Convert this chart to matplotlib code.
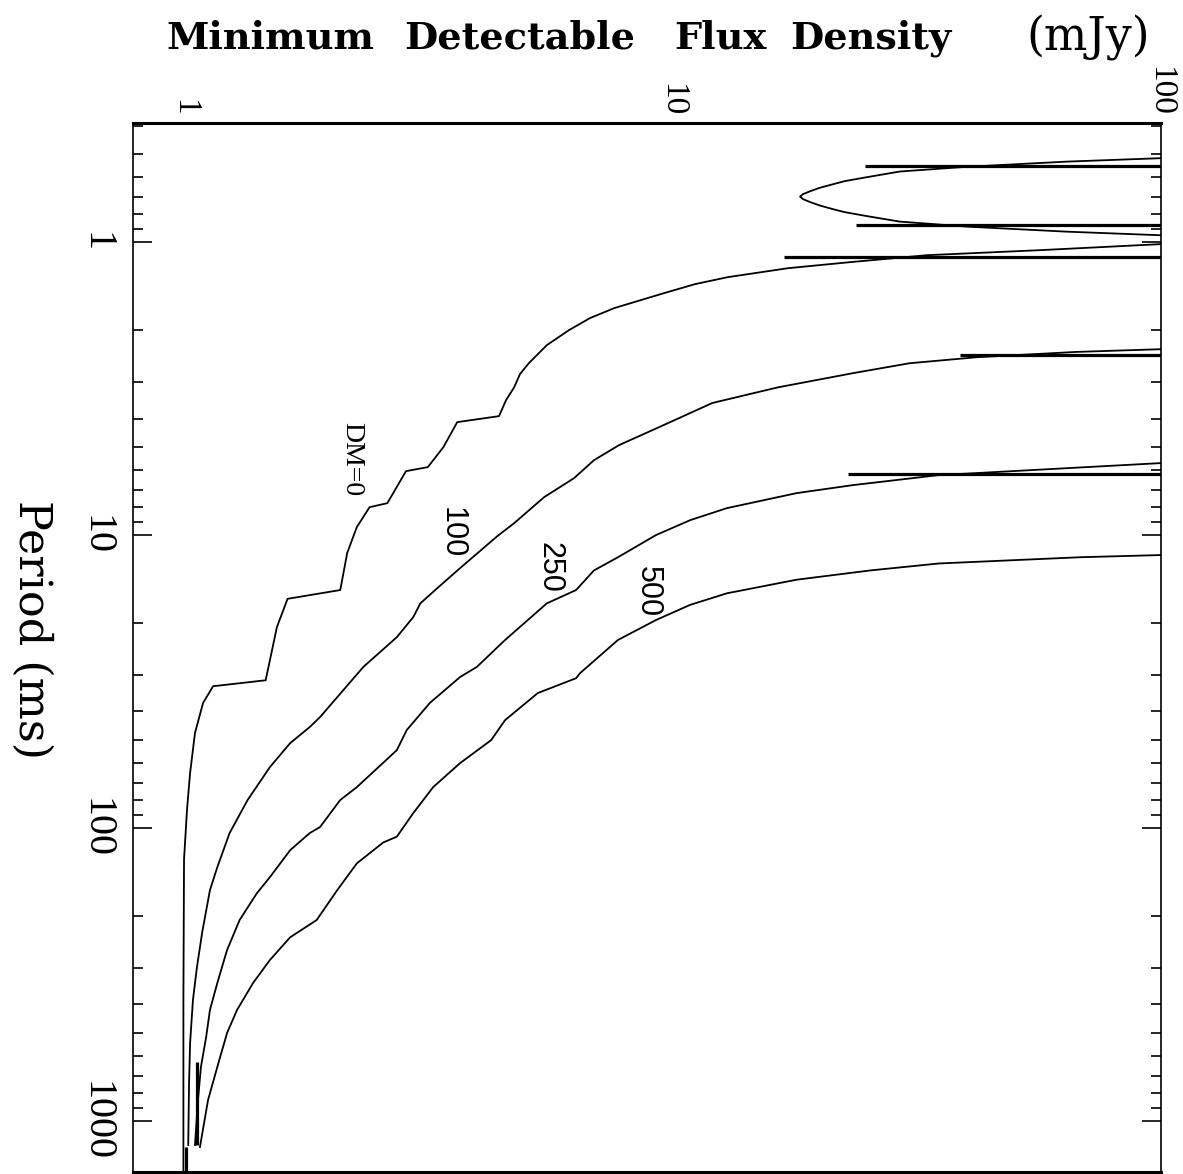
import numpy as np
import matplotlib.pyplot as plt
from matplotlib.ticker import LogLocator, NullFormatter, FixedLocator

# DM = 0 curve (period in ms, flux in mJy)
dm0_period = [1.008, 1.016, 1.065, 1.108, 1.170, 1.227, 1.317, 1.391, 1.493, 1.680, 1.817,
              1.997, 2.247, 2.588, 2.822, 3.126, 3.462, 3.926,
              4.115, 5.01, 5.86, 6.05, 7.78, 8.03, 9.39, 11.5, 15.4, 16.5, 20.6, 31.3,
              32.8, 37.4, 47.4, 64.9, 86.8, 128, 386, 1600]
dm0_flux = [110, 100, 56.8, 33.3, 23.2, 17.3, 13.0, 11.15, 9.63, 7.61, 6.79,
            6.15, 5.54, 5.09, 4.88, 4.75, 4.57, 4.42,
            3.63, 3.40, 3.16, 2.85, 2.61, 2.40, 2.26, 2.16, 2.09, 1.63, 1.55, 1.47,
            1.147, 1.094, 1.053, 1.029, 1.014, 1.0, 0.997, 0.997]

# DM = 0 loop at the shortest periods
loop_period = [0.513, 0.517, 0.531, 0.553, 0.574, 0.600, 0.619, 0.634, 0.652, 0.670,
               0.686, 0.699, 0.713, 0.730, 0.750, 0.772, 0.790, 0.815, 0.851, 0.885,
               0.921, 0.947, 0.954]
loop_flux = [110, 100, 64.5, 40.2, 29.3, 25.1, 22.6, 21.4, 20.1, 19.2,
             18.55, 18.3, 18.55, 19.2, 20.1, 21.4, 22.6, 25.1, 29.3, 40.2,
             64.5, 100, 110]

dm100_period = [2.30, 2.32, 2.37, 2.47, 2.59, 2.80, 3.13, 3.54, 4.28, 4.93, 5.55, 6.39,
                7.42, 9.10, 10.1, 12.96, 15.2, 17.1, 19.05, 22.3, 28.2, 41.8, 45.2,
                51.3, 61.9, 80.2, 104, 136, 163, 228, 298, 386, 542, 742, 1208]
dm100_flux = [110, 100, 67.3, 42.2, 30.7, 23.5, 16.5, 12.1, 9.41, 7.79, 6.92, 6.30,
              5.47, 4.75, 4.38, 3.68, 3.30, 3.05, 2.95, 2.73, 2.33, 1.90, 1.81,
              1.65, 1.50, 1.35, 1.24, 1.17, 1.13, 1.089, 1.063, 1.043, 1.029, 1.024, 1.02]

dm250_period = [5.60, 5.68, 6.14, 6.24, 6.75, 7.19, 8.09, 8.89, 10.0, 11.9, 13.2, 15.4,
                17.1, 22.8, 28.2, 30.5, 37.4, 46.3, 54.2, 72.5, 80.2, 99.2, 104, 119,
                147, 167, 206, 261, 338, 418, 517, 654, 848, 1208]
dm250_flux = [110, 100, 42.2, 35.2, 23.5, 18.0, 12.96, 10.9, 9.27, 7.75, 6.92, 6.36,
              5.54, 4.55, 3.98, 3.68, 3.19, 2.86, 2.73, 2.26, 2.09, 1.90, 1.81, 1.65,
              1.50, 1.41, 1.30, 1.225, 1.17, 1.13, 1.11, 1.083, 1.068, 1.053]

dm500_period = [11.6, 11.7, 11.9, 12.5, 13.2, 14.2, 15.8, 17.3, 19.5, 22.8, 29.6, 30.8,
                34.6, 42.8, 50.1, 60.0, 72.5, 88.9, 107, 112, 132, 163, 206, 236, 282,
                338, 418, 501, 654, 848, 1227]
dm500_flux = [110, 100, 68.6, 35.2, 25.5, 18.0, 12.96, 10.9, 9.27, 7.75, 6.48, 6.36,
              5.31, 4.55, 4.26, 3.68, 3.24, 2.95, 2.73, 2.56, 2.26, 2.06, 1.87, 1.65,
              1.50, 1.385, 1.284, 1.225, 1.17, 1.12, 1.078]

# horizontal spikes: period, leftmost flux (they run off the right edge)
spike_period = [0.550, 0.875, 1.125, 2.43, 6.19]
spike_flux = [24.9, 23.8, 17.0, 38.9, 22.9]

# vertical spikes near 1 mJy at long periods: flux, period from, period to
vspike_flux = [1.063, 1.009]
vspike_p0 = [629, 1227]
vspike_p1 = [1208, 1600]

labels = ["DM=0", "100", "250", "500"]
label_flux = [2.21, 3.54, 5.62, 8.93]
label_period = [5.50, 9.77, 12.9, 15.6]

title_words = ["Minimum", "Detectable", "Flux", "Density"]
title_x = [166, 404, 674, 790]

fig = plt.figure(figsize=(11.83, 11.74), dpi=100)
ax = fig.add_axes([133 / 1183, 1 - 1172 / 1174, (1161 - 133) / 1183, (1172 - 123) / 1174])

lw = 1.3
ax.plot(dm0_flux, dm0_period, color="black", lw=lw)
ax.plot(loop_flux, loop_period, color="black", lw=lw)
ax.plot(dm100_flux, dm100_period, color="black", lw=lw)
ax.plot(dm250_flux, dm250_period, color="black", lw=lw)
ax.plot(dm500_flux, dm500_period, color="black", lw=lw)
ax.hlines(spike_period, spike_flux, 200, color="black", lw=2.3)
ax.vlines(vspike_flux, vspike_p0, vspike_p1, color="black", lw=2.3)

for i, lab in enumerate(labels):
    if lab.startswith("DM"):
        ax.text(label_flux[i], label_period[i], lab, rotation=-90, ha="center",
                va="center", fontsize=20, family="Liberation Serif")
    else:
        ax.text(label_flux[i], label_period[i], lab, rotation=-90, ha="center",
                va="center", fontsize=22, family="Liberation Sans")

ax.set_xscale("log")
ax.set_yscale("log")
ax.set_xlim(0.786, 100.5)
ax.set_ylim(1493, 0.392)

# flux axis on top, labels only
ax.xaxis.tick_top()
ax.xaxis.set_major_locator(FixedLocator([1, 10, 100]))
ax.set_xticklabels(["1", "10", "100"], rotation=-90, family="Liberation Serif", fontsize=24)
ax.xaxis.set_minor_locator(FixedLocator([]))
ax.tick_params(axis="x", which="both", length=0, pad=5)

# period axis ticks on both sides, pointing inward
ax.yaxis.set_major_locator(FixedLocator([1, 10, 100, 1000]))
ax.set_yticklabels(["1", "10", "100", "1000"], rotation=-90, family="Liberation Serif",
                   fontsize=29, va="center")
ax.yaxis.set_minor_locator(LogLocator(base=10, subs=np.arange(2, 10), numticks=20))
ax.yaxis.set_minor_formatter(NullFormatter())
ax.tick_params(axis="y", which="both", direction="in", left=True, right=True, width=1.2)
ax.tick_params(axis="y", which="major", length=13.5, pad=13)
ax.tick_params(axis="y", which="minor", length=7)

for side in ["top", "bottom"]:
    ax.spines[side].set_linewidth(2.2)
for side in ["left", "right"]:
    ax.spines[side].set_linewidth(1.2)

for word, xp in zip(title_words, title_x):
    fig.text(xp / 1183, 1 - 38 / 1174, word, ha="left", va="center",
             fontsize=27.5, fontweight="bold", family="DejaVu Serif")
fig.text(1150 / 1183, 1 - 38 / 1174, "(mJy)", ha="right", va="center",
         fontsize=33, family="DejaVu Serif")
fig.text(32 / 1183, 1 - 630 / 1174, "Period (ms)", rotation=-90, ha="center", va="center",
         fontsize=32, family="DejaVu Serif")

fig.savefig("out.png", dpi=100)
